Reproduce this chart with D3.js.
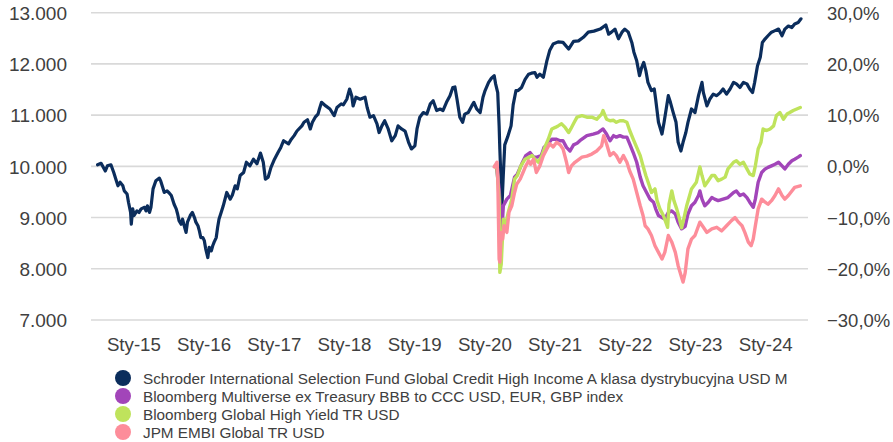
<!DOCTYPE html>
<html>
<head>
<meta charset="utf-8">
<script src="https://cdn.jsdelivr.net/npm/d3@7"></script>
<style>
  body { margin: 0; background: #fff; }
  svg text { font-family: "Liberation Sans", Arial, sans-serif; fill: #404040; }
</style>
</head>
<body>
<svg id="chart" width="893" height="442"></svg>
<script>
// ticks and labels
const yearTicks = [2015, 2016, 2017, 2018, 2019, 2020, 2021, 2022, 2023, 2024];
const leftTicks = [7000, 8000, 9000, 10000, 11000, 12000, 13000];
const rightTicks = [-30, -20, -10, 0, 10, 20, 30];

const seriesNames = [
    'Schroder International Selection Fund Global Credit High Income A klasa dystrybucyjna USD M',
    'Bloomberg Multiverse ex Treasury BBB to CCC USD, EUR, GBP index',
    'Bloomberg Global High Yield TR USD',
    'JPM EMBI Global TR USD'
];
const seriesColors = ['#0b2d5c', '#a245b9', '#bfe35c', '#fd8d9a'];

// fund value (left axis), [decimal year, value]
const schroder = [
[2014.49,10030],[2014.54,10060],[2014.60,9910],[2014.63,10010],[2014.68,10030],[2014.72,9880],[2014.75,9750],[2014.78,9620],[2014.81,9690],[2014.85,9620],[2014.87,9520],[2014.91,9460],[2014.93,9300],[2014.96,9100],[2014.97,8870],[2014.99,9170],[2015.01,9040],[2015.05,9130],[2015.08,9100],[2015.11,9170],[2015.16,9200],[2015.18,9130],[2015.20,9230],[2015.23,9100],[2015.25,9200],[2015.28,9560],[2015.32,9720],[2015.37,9770],[2015.39,9710],[2015.44,9490],[2015.48,9520],[2015.51,9480],[2015.54,9430],[2015.58,9260],[2015.61,9170],[2015.63,9070],[2015.65,8940],[2015.68,8870],[2015.70,8970],[2015.73,8810],[2015.75,8710],[2015.77,8910],[2015.81,9040],[2015.84,9100],[2015.87,9000],[2015.89,8910],[2015.92,8840],[2015.94,8740],[2015.96,8610],[2015.99,8610],
[2016.01,8550],[2016.03,8390],[2016.06,8220],[2016.08,8420],[2016.11,8350],[2016.13,8450],[2016.15,8520],[2016.18,8610],[2016.20,8810],[2016.22,8970],[2016.25,9100],[2016.28,9230],[2016.33,9490],[2016.38,9360],[2016.41,9440],[2016.45,9620],[2016.48,9560],[2016.52,9820],[2016.57,9880],[2016.61,10080],[2016.66,10010],[2016.71,10140],[2016.76,10050],[2016.81,10260],[2016.85,10080],[2016.88,9750],[2016.92,9790],[2016.96,9980],
[2017.01,10140],[2017.06,10270],[2017.10,10370],[2017.14,10500],[2017.21,10440],[2017.25,10530],[2017.29,10600],[2017.33,10690],[2017.40,10790],[2017.43,10860],[2017.48,10910],[2017.52,10730],[2017.55,10860],[2017.59,10960],[2017.63,11020],[2017.65,11120],[2017.68,11250],[2017.74,11180],[2017.80,11120],[2017.86,10990],[2017.90,11150],[2017.96,11220],[2017.99,11200],
[2018.04,11310],[2018.08,11510],[2018.11,11380],[2018.13,11180],[2018.17,11350],[2018.23,11310],[2018.30,11350],[2018.33,11150],[2018.37,10960],[2018.42,10990],[2018.47,10830],[2018.50,10660],[2018.54,10790],[2018.58,10890],[2018.63,10730],[2018.68,10500],[2018.73,10600],[2018.77,10790],[2018.82,10730],[2018.87,10690],[2018.92,10470],[2018.96,10340],
[2019.01,10400],[2019.04,10730],[2019.08,10960],[2019.13,11050],[2019.18,11020],[2019.23,11220],[2019.27,11280],[2019.32,11090],[2019.37,11120],[2019.41,11090],[2019.46,11250],[2019.51,11380],[2019.55,11540],[2019.58,11550],[2019.61,11310],[2019.65,10960],[2019.69,10860],[2019.72,11020],[2019.77,11050],[2019.82,11180],[2019.85,11250],[2019.89,11120],[2019.94,11050],[2019.98,11350],
[2020.01,11480],[2020.06,11640],[2020.10,11720],[2020.14,11770],[2020.16,11610],[2020.19,11440],[2020.21,10790],[2020.22,10340],[2020.25,9230],[2020.27,9850],[2020.29,10420],[2020.33,10570],[2020.38,10790],[2020.41,11200],[2020.45,11480],[2020.48,11480],[2020.53,11540],[2020.58,11700],[2020.63,11800],[2020.67,11820],[2020.72,11830],[2020.75,11740],[2020.79,11800],[2020.84,11740],[2020.89,12060],[2020.93,12260],[2020.98,12390],
[2021.05,12430],[2021.12,12420],[2021.20,12290],[2021.27,12440],[2021.34,12450],[2021.41,12520],[2021.48,12620],[2021.56,12640],[2021.65,12680],[2021.73,12760],[2021.77,12580],[2021.81,12620],[2021.86,12680],[2021.91,12490],[2021.96,12620],
[2022.00,12680],[2022.05,12620],[2022.10,12420],[2022.13,12230],[2022.17,12060],[2022.21,11770],[2022.24,11930],[2022.27,12030],[2022.30,11870],[2022.33,11640],[2022.38,11480],[2022.42,11510],[2022.44,11310],[2022.48,10860],[2022.53,10630],[2022.56,10860],[2022.59,11120],[2022.62,11380],[2022.65,11250],[2022.69,11050],[2022.73,10860],[2022.76,10470],[2022.80,10300],[2022.83,10470],[2022.87,10660],[2022.90,10860],[2022.95,11120],
[2023.00,11050],[2023.05,11380],[2023.10,11640],[2023.12,11440],[2023.17,11180],[2023.21,11310],[2023.26,11410],[2023.31,11380],[2023.36,11440],[2023.40,11510],[2023.45,11410],[2023.50,11510],[2023.55,11640],[2023.59,11610],[2023.64,11540],[2023.69,11640],[2023.74,11610],[2023.78,11510],[2023.82,11440],[2023.85,11640],[2023.89,11960],[2023.93,12130],[2023.96,12420],
[2024.00,12490],[2024.04,12550],[2024.09,12620],[2024.14,12650],[2024.19,12680],[2024.24,12550],[2024.28,12680],[2024.33,12740],[2024.38,12710],[2024.42,12780],[2024.47,12810],[2024.51,12880]
];

// benchmarks, % change (right axis)
const multiverse = [
[2020.17,-0.1],[2020.21,-4.4],[2020.23,-9.3],[2020.25,-12.2],[2020.27,-7.7],[2020.32,-6.4],[2020.37,-5.7],[2020.43,-2.1],[2020.47,-1.5],[2020.53,0.4],[2020.59,2.1],[2020.65,2.7],[2020.70,1.8],[2020.75,1.8],[2020.81,2.1],[2020.85,3.7],[2020.91,4.4],[2020.96,5.3],
[2021.02,5.3],[2021.08,5.0],[2021.12,5.0],[2021.17,3.7],[2021.22,3.0],[2021.27,4.2],[2021.32,4.5],[2021.36,5.0],[2021.46,6.0],[2021.55,6.3],[2021.62,6.6],[2021.69,7.3],[2021.74,6.3],[2021.79,5.0],[2021.84,6.0],[2021.88,5.7],[2021.93,6.0],[2021.98,5.7],
[2022.03,5.7],[2022.07,4.4],[2022.12,2.7],[2022.17,0.8],[2022.22,-2.1],[2022.26,-3.8],[2022.31,-5.1],[2022.36,-6.4],[2022.41,-7.0],[2022.44,-8.3],[2022.48,-9.6],[2022.53,-10.0],[2022.57,-10.3],[2022.62,-9.0],[2022.67,-8.7],[2022.72,-9.3],[2022.76,-10.9],[2022.81,-12.2],[2022.86,-11.7],[2022.90,-9.3],[2022.95,-7.7],
[2023.00,-7.0],[2023.05,-5.7],[2023.07,-4.8],[2023.10,-6.4],[2023.14,-7.7],[2023.19,-7.0],[2023.24,-6.1],[2023.28,-6.4],[2023.33,-6.7],[2023.40,-6.4],[2023.47,-6.1],[2023.55,-5.1],[2023.59,-4.8],[2023.64,-5.7],[2023.69,-5.4],[2023.74,-6.1],[2023.78,-7.0],[2023.83,-8.0],[2023.86,-6.4],[2023.90,-3.1],[2023.95,-1.2],
[2024.00,-0.5],[2024.04,-0.2],[2024.09,0.1],[2024.14,0.4],[2024.19,0.8],[2024.24,0.1],[2024.28,-0.5],[2024.33,0.4],[2024.38,1.1],[2024.42,1.4],[2024.47,1.8],[2024.50,2.1]
];

const highYield = [
[2020.15,0.1],[2020.18,-0.5],[2020.21,-6.4],[2020.22,-20.7],[2020.24,-19.1],[2020.27,-10.3],[2020.30,-11.6],[2020.34,-9.0],[2020.39,-6.4],[2020.43,-2.5],[2020.47,-1.8],[2020.52,0.1],[2020.58,1.4],[2020.64,1.8],[2020.68,2.1],[2020.72,1.4],[2020.77,0.8],[2020.82,2.1],[2020.86,3.7],[2020.91,5.3],[2020.96,7.3],
[2021.01,7.6],[2021.05,7.9],[2021.10,8.3],[2021.15,7.6],[2021.20,6.6],[2021.23,7.3],[2021.28,8.6],[2021.32,9.6],[2021.39,9.9],[2021.46,9.6],[2021.53,9.6],[2021.60,9.2],[2021.67,10.2],[2021.69,10.9],[2021.74,9.2],[2021.79,8.9],[2021.84,9.0],[2021.88,8.6],[2021.93,8.9],[2021.98,8.9],
[2022.03,8.6],[2022.07,7.0],[2022.12,5.3],[2022.17,3.7],[2022.22,2.1],[2022.26,0.1],[2022.30,-1.8],[2022.35,-3.8],[2022.38,-5.1],[2022.43,-4.4],[2022.46,-6.7],[2022.50,-8.3],[2022.55,-9.6],[2022.61,-11.9],[2022.63,-7.4],[2022.67,-4.8],[2022.70,-6.7],[2022.74,-8.3],[2022.78,-10.3],[2022.81,-12.0],[2022.84,-10.3],[2022.88,-7.8],[2022.95,-4.4],
[2023.02,-3.1],[2023.07,-0.1],[2023.10,-1.8],[2023.14,-3.8],[2023.19,-2.8],[2023.24,-1.8],[2023.28,-1.8],[2023.33,-2.8],[2023.38,-2.5],[2023.43,-2.1],[2023.47,-0.5],[2023.55,0.8],[2023.59,1.1],[2023.64,0.4],[2023.69,0.8],[2023.74,-0.5],[2023.78,-1.5],[2023.83,-1.8],[2023.86,0.1],[2023.90,3.4],[2023.94,4.7],[2023.97,7.3],
[2024.02,7.0],[2024.07,7.3],[2024.12,7.9],[2024.16,9.9],[2024.21,10.5],[2024.26,9.2],[2024.31,10.2],[2024.35,10.5],[2024.40,10.9],[2024.45,11.2],[2024.50,11.5]
];

const embi = [
[2020.14,-0.1],[2020.18,0.8],[2020.19,-1.5],[2020.21,-18.1],[2020.22,-18.7],[2020.24,-12.9],[2020.26,-14.2],[2020.28,-11.6],[2020.32,-12.9],[2020.35,-9.0],[2020.39,-7.7],[2020.43,-5.1],[2020.46,-3.5],[2020.51,-2.5],[2020.55,-1.2],[2020.59,0.1],[2020.63,1.1],[2020.66,0.4],[2020.70,1.4],[2020.74,-1.2],[2020.79,0.1],[2020.84,2.1],[2020.89,3.4],[2020.93,4.4],[2020.98,3.8],
[2021.03,4.7],[2021.08,4.2],[2021.12,3.4],[2021.17,0.8],[2021.20,-1.2],[2021.24,0.1],[2021.29,0.8],[2021.39,1.8],[2021.46,2.0],[2021.53,2.4],[2021.60,3.0],[2021.67,4.0],[2021.70,6.0],[2021.74,4.4],[2021.79,2.1],[2021.84,2.7],[2021.88,2.1],[2021.93,0.8],[2021.98,2.1],
[2022.03,0.8],[2022.07,-0.9],[2022.12,-2.5],[2022.17,-5.1],[2022.22,-7.7],[2022.26,-9.6],[2022.29,-11.6],[2022.33,-12.2],[2022.38,-13.5],[2022.43,-15.5],[2022.48,-16.8],[2022.53,-18.1],[2022.57,-16.8],[2022.62,-13.5],[2022.67,-14.8],[2022.72,-16.8],[2022.76,-19.4],[2022.81,-21.7],[2022.83,-22.6],[2022.86,-20.8],[2022.90,-16.1],[2022.95,-14.2],
[2023.00,-13.5],[2023.07,-10.9],[2023.12,-11.9],[2023.17,-12.9],[2023.24,-12.2],[2023.31,-11.9],[2023.38,-12.6],[2023.45,-11.6],[2023.52,-10.6],[2023.57,-10.0],[2023.62,-10.9],[2023.67,-11.6],[2023.71,-12.9],[2023.76,-14.8],[2023.80,-15.5],[2023.83,-14.2],[2023.86,-11.6],[2023.90,-8.3],[2023.95,-6.4],
[2024.00,-7.0],[2024.04,-7.4],[2024.09,-6.7],[2024.14,-5.7],[2024.19,-4.4],[2024.24,-5.7],[2024.28,-6.4],[2024.33,-5.7],[2024.38,-4.8],[2024.42,-4.1],[2024.50,-3.8]
];

const svg = d3.select('#chart');
const width = +svg.attr('width');
const plotLeft = 91, plotRight = 808, plotTop = 12.7, plotBottom = 320;

svg.append('rect').attr('width', width).attr('height', 442).attr('fill', '#fff');

let x = d3.scaleLinear().domain([2014.396, 2024.61]).range([plotLeft, plotRight]);
let yLeft = d3.scaleLinear().domain([7000, 13000]).range([plotBottom, plotTop]);
let yRight = d3.scaleLinear().domain([-30, 30]).range([plotBottom, plotTop]);

const pl = d3.formatLocale({decimal: ',', thousands: '.', grouping: [3], currency: ['', ' zł']});
const fmtLeft = pl.format(',');
const fmtRight = function (d) { return pl.format('.1f')(d) + '%'; };

// gridlines
svg.append('g')
    .selectAll('line')
    .data(leftTicks)
    .enter().append('line')
    .attr('x1', plotLeft).attr('x2', plotRight)
    .attr('y1', function (d) { return yLeft(d); })
    .attr('y2', function (d) { return yLeft(d); })
    .attr('stroke', '#d9d9d9')
    .attr('stroke-width', 1.6);

// left axis
let leftAxis = svg.append('g')
    .attr('transform', 'translate(' + plotLeft + ',0)')
    .call(d3.axisLeft(yLeft).tickValues(leftTicks).tickFormat(fmtLeft).tickSize(0).tickPadding(24));
leftAxis.select('.domain').remove();
leftAxis.selectAll('text').style('font-size', '19px').attr('dy', '0.35em');

// right axis
let rightAxis = svg.append('g')
    .attr('transform', 'translate(' + plotRight + ',0)')
    .call(d3.axisRight(yRight).tickValues(rightTicks).tickFormat(fmtRight).tickSize(0).tickPadding(19));
rightAxis.select('.domain').remove();
rightAxis.selectAll('text').style('font-size', '18.5px').attr('dy', '0.35em');

// bottom axis
let bottomAxis = svg.append('g')
    .attr('transform', 'translate(0,' + plotBottom + ')')
    .call(d3.axisBottom(x).tickValues(yearTicks)
        .tickFormat(function (d) { return 'Sty-' + String(d).slice(2); })
        .tickSize(0).tickPadding(18));
bottomAxis.select('.domain').remove();
bottomAxis.selectAll('text').style('font-size', '18.7px');

// lines
const lineLeft = d3.line()
    .x(function (d) { return x(d[0]); })
    .y(function (d) { return yLeft(d[1]); });
const lineRight = d3.line()
    .x(function (d) { return x(d[0]); })
    .y(function (d) { return yRight(d[1]); });

const drawn = [
    {data: schroder, line: lineLeft, color: seriesColors[0], w: 3.2},
    {data: multiverse, line: lineRight, color: seriesColors[1], w: 3.4},
    {data: highYield, line: lineRight, color: seriesColors[2], w: 3.4},
    {data: embi, line: lineRight, color: seriesColors[3], w: 3.4}
];
drawn.forEach(function (s) {
    svg.append('path')
        .datum(s.data)
        .attr('d', s.line)
        .attr('fill', 'none')
        .attr('stroke', s.color)
        .attr('stroke-width', s.w)
        .attr('stroke-linejoin', 'round')
        .attr('stroke-linecap', 'round');
});

// legend
let legend = svg.append('g').attr('transform', 'translate(123,378)');
let rows = legend.selectAll('g')
    .data(seriesNames)
    .enter().append('g')
    .attr('transform', function (d, i) { return 'translate(0,' + (i * 18) + ')'; });
rows.append('circle')
    .attr('r', 8)
    .attr('fill', function (d, i) { return seriesColors[i]; });
rows.append('text')
    .attr('x', 20)
    .attr('dy', '0.36em')
    .style('font-size', '15.3px')
    .text(function (d) { return d; });
</script>
</body>
</html>
